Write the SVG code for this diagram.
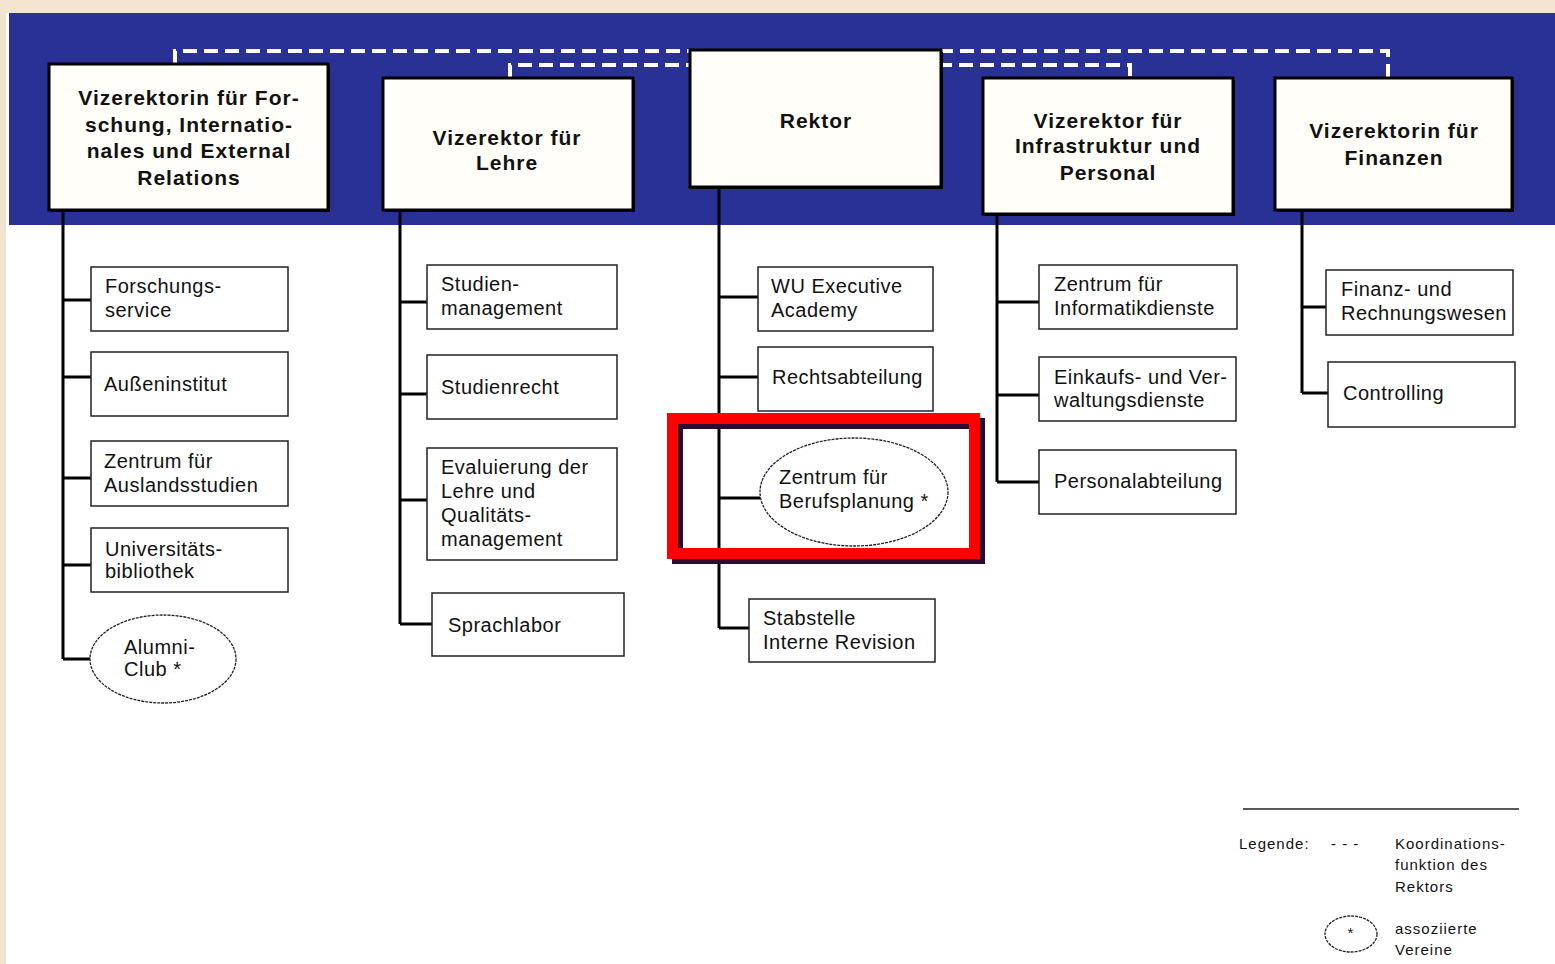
<svg xmlns="http://www.w3.org/2000/svg" width="1555" height="964" viewBox="0 0 1555 964">
<defs>
<style>
.top{fill:#fffef8;stroke:#000;stroke-width:3}
.sh{fill:#000}
.sub{fill:#fff;stroke:#222;stroke-width:1.5}
.ell{fill:#fff;stroke:#222;stroke-width:1.3;stroke-dasharray:3 1}
.tt{font-family:"Liberation Sans",Arial,sans-serif;font-size:21px;font-weight:bold;letter-spacing:1px;fill:#111;text-anchor:middle}
.st{font-family:"Liberation Sans",Arial,sans-serif;font-size:20px;letter-spacing:0.5px;fill:#111}
.lg{font-family:"Liberation Sans",Arial,sans-serif;font-size:15px;letter-spacing:1px;fill:#111}
.ln{fill:none;stroke:#000;stroke-width:3}
.dash{fill:none;stroke:#fff;stroke-width:4;stroke-dasharray:14 7}
</style>
</defs>
<rect x="0" y="0" width="1555" height="964" fill="#f3e4d0"/>
<rect x="6" y="13" width="1549" height="951" fill="#fff"/>
<rect x="9" y="13" width="1546" height="212" fill="#2a3196"/>

<g id="connectors">
<path class="dash" d="M175,64 V51 H1388 V78"/>
<path class="dash" d="M510,78 V65 H1130 V78"/>
<path class="ln" d="M63,210 V659 M63,300 H91 M63,377 H91 M63,478 H91 M63,565 H91 M63,659 H90"/>
<path class="ln" d="M400,210 V624 M400,302 H427 M400,394 H427 M400,500 H427 M400,624 H432"/>
<path class="ln" d="M719,187 V628 M719,297 H758 M719,377 H758 M719,498 H760 M719,628 H749"/>
<path class="ln" d="M997,214 V482 M997,302 H1039 M997,395 H1039 M997,482 H1039"/>
<path class="ln" d="M1302,210 V393 M1302,307 H1326 M1302,393 H1328"/>
</g>

<g id="n-vr-forschung">
<rect class="sh" x="51" y="66" width="279" height="146"/>
<rect class="top" x="49" y="64" width="279" height="146"/>
<text class="tt" x="189" y="105">Vizerektorin für For-</text>
<text class="tt" x="189" y="132">schung, Internatio-</text>
<text class="tt" x="189" y="158">nales und External</text>
<text class="tt" x="189" y="185">Relations</text>
</g>
<g id="n-vr-lehre">
<rect class="sh" x="385" y="80" width="250" height="132"/>
<rect class="top" x="383" y="78" width="250" height="132"/>
<text class="tt" x="507" y="145">Vizerektor für</text>
<text class="tt" x="507" y="170">Lehre</text>
</g>
<g id="n-rektor">
<rect class="sh" x="692" y="52" width="251" height="137"/>
<rect class="top" x="690" y="50" width="251" height="137"/>
<text class="tt" x="816" y="128">Rektor</text>
</g>
<g id="n-vr-infra">
<rect class="sh" x="985" y="80" width="250" height="136"/>
<rect class="top" x="983" y="78" width="250" height="136"/>
<text class="tt" x="1108" y="128">Vizerektor für</text>
<text class="tt" x="1108" y="153">Infrastruktur und</text>
<text class="tt" x="1108" y="180">Personal</text>
</g>
<g id="n-vr-finanzen">
<rect class="sh" x="1277" y="80" width="237" height="132"/>
<rect class="top" x="1275" y="78" width="237" height="132"/>
<text class="tt" x="1394" y="138">Vizerektorin für</text>
<text class="tt" x="1394" y="165">Finanzen</text>
</g>

<g id="n-forschungsservice">
<rect class="sub" x="91" y="267" width="197" height="64"/>
<text class="st" x="105" y="293">Forschungs-</text>
<text class="st" x="105" y="317">service</text>
</g>
<g id="n-ausseninstitut">
<rect class="sub" x="91" y="352" width="197" height="64"/>
<text class="st" x="104" y="391">Außeninstitut</text>
</g>
<g id="n-auslandsstudien">
<rect class="sub" x="91" y="441" width="197" height="65"/>
<text class="st" x="104" y="468">Zentrum für</text>
<text class="st" x="104" y="492">Auslandsstudien</text>
</g>
<g id="n-bibliothek">
<rect class="sub" x="91" y="528" width="197" height="64"/>
<text class="st" x="105" y="556">Universitäts-</text>
<text class="st" x="105" y="578">bibliothek</text>
</g>
<g id="n-alumni">
<ellipse class="ell" cx="163" cy="659" rx="73" ry="44"/>
<text class="st" x="124" y="654">Alumni-</text>
<text class="st" x="124" y="676">Club *</text>
</g>

<g id="n-studienmanagement">
<rect class="sub" x="427" y="265" width="190" height="64"/>
<text class="st" x="441" y="291">Studien-</text>
<text class="st" x="441" y="315">management</text>
</g>
<g id="n-studienrecht">
<rect class="sub" x="427" y="355" width="190" height="64"/>
<text class="st" x="441" y="394">Studienrecht</text>
</g>
<g id="n-evaluierung">
<rect class="sub" x="427" y="448" width="190" height="112"/>
<text class="st" x="441" y="474">Evaluierung der</text>
<text class="st" x="441" y="498">Lehre und</text>
<text class="st" x="441" y="522">Qualitäts-</text>
<text class="st" x="441" y="546">management</text>
</g>
<g id="n-sprachlabor">
<rect class="sub" x="432" y="593" width="192" height="63"/>
<text class="st" x="448" y="632">Sprachlabor</text>
</g>

<g id="n-executive">
<rect class="sub" x="758" y="267" width="175" height="64"/>
<text class="st" x="771" y="293">WU Executive</text>
<text class="st" x="771" y="317">Academy</text>
</g>
<g id="n-recht">
<rect class="sub" x="758" y="347" width="175" height="64"/>
<text class="st" x="772" y="384">Rechtsabteilung</text>
</g>
<g id="n-berufsplanung">
<ellipse class="ell" cx="854" cy="492" rx="94" ry="54"/>
<text class="st" x="779" y="484">Zentrum für</text>
<text class="st" x="779" y="508">Berufsplanung *</text>
</g>
<g id="highlight">
<rect x="677.5" y="423.5" width="302" height="135" fill="none" stroke="#2b0a33" stroke-width="11"/>
<rect x="672.5" y="418.5" width="302" height="135" fill="none" stroke="#f00" stroke-width="11"/>
</g>
<g id="n-revision">
<rect class="sub" x="749" y="599" width="186" height="63"/>
<text class="st" x="763" y="625">Stabstelle</text>
<text class="st" x="763" y="649">Interne Revision</text>
</g>

<g id="n-informatik">
<rect class="sub" x="1039" y="265" width="198" height="64"/>
<text class="st" x="1054" y="291">Zentrum für</text>
<text class="st" x="1054" y="315">Informatikdienste</text>
</g>
<g id="n-einkauf">
<rect class="sub" x="1039" y="357" width="197" height="64"/>
<text class="st" x="1054" y="384">Einkaufs- und Ver-</text>
<text class="st" x="1054" y="407">waltungsdienste</text>
</g>
<g id="n-personal">
<rect class="sub" x="1039" y="450" width="197" height="64"/>
<text class="st" x="1054" y="488">Personalabteilung</text>
</g>

<g id="n-finanz">
<rect class="sub" x="1326" y="270" width="187" height="65"/>
<text class="st" x="1341" y="296">Finanz- und</text>
<text class="st" x="1341" y="320">Rechnungswesen</text>
</g>
<g id="n-controlling">
<rect class="sub" x="1328" y="362" width="187" height="65"/>
<text class="st" x="1343" y="400">Controlling</text>
</g>

<g id="legend">
<line x1="1243" y1="809" x2="1519" y2="809" stroke="#222" stroke-width="1.5"/>
<text class="lg" x="1239" y="849">Legende:</text>
<text class="lg" x="1331" y="849">- -  -</text>
<text class="lg" x="1395" y="849">Koordinations-</text>
<text class="lg" x="1395" y="870">funktion des</text>
<text class="lg" x="1395" y="892">Rektors</text>
<ellipse class="ell" cx="1351" cy="934" rx="26" ry="18"/>
<text class="lg" x="1351" y="938" text-anchor="middle" font-size="11">*</text>
<text class="lg" x="1395" y="934">assoziierte</text>
<text class="lg" x="1395" y="955">Vereine</text>
</g>
</svg>
